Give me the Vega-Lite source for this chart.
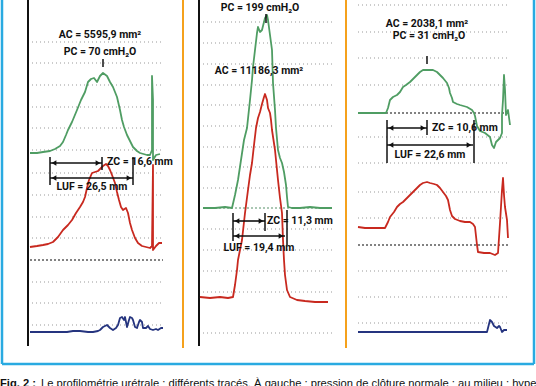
{
  "$schema": "https://vega.github.io/schema/vega-lite/v6.json",
  "width": 536,
  "height": 386,
  "padding": 0,
  "autosize": {"type": "none"},
  "background": "white",
  "config": {"view": {"stroke": null}},
  "resolve": {"scale": {"color": "independent", "shape": "independent"}},
  "encoding": {
    "x": {"field": "x", "type": "quantitative", "scale": {"domain": [0, 536], "nice": false, "zero": false}, "axis": null},
    "y": {"field": "y", "type": "quantitative", "scale": {"domain": [0, 386], "nice": false, "zero": false, "reverse": true}, "axis": null}
  },
  "datasets": {
    "grid": [
      {"x": 32, "x2": 162, "y": 42}, {"x": 32, "x2": 162, "y": 63}, {"x": 32, "x2": 162, "y": 85}, {"x": 32, "x2": 162, "y": 107}, {"x": 32, "x2": 162, "y": 128}, {"x": 32, "x2": 162, "y": 150}, {"x": 32, "x2": 162, "y": 173}, {"x": 32, "x2": 162, "y": 195}, {"x": 32, "x2": 162, "y": 217}, {"x": 32, "x2": 162, "y": 238}, {"x": 32, "x2": 162, "y": 282}, {"x": 32, "x2": 162, "y": 303}, {"x": 32, "x2": 162, "y": 325},
      {"x": 203, "x2": 332, "y": 22}, {"x": 203, "x2": 332, "y": 43}, {"x": 203, "x2": 332, "y": 64}, {"x": 203, "x2": 332, "y": 85}, {"x": 203, "x2": 332, "y": 105}, {"x": 203, "x2": 332, "y": 126}, {"x": 203, "x2": 332, "y": 147}, {"x": 203, "x2": 332, "y": 167}, {"x": 203, "x2": 332, "y": 188}, {"x": 203, "x2": 332, "y": 229}, {"x": 203, "x2": 332, "y": 250}, {"x": 203, "x2": 332, "y": 271}, {"x": 203, "x2": 332, "y": 292}, {"x": 203, "x2": 332, "y": 333},
      {"x": 358, "x2": 510, "y": 5}, {"x": 358, "x2": 510, "y": 32}, {"x": 358, "x2": 510, "y": 58}, {"x": 358, "x2": 510, "y": 85}, {"x": 358, "x2": 510, "y": 137}, {"x": 358, "x2": 510, "y": 163}, {"x": 358, "x2": 510, "y": 192}, {"x": 358, "x2": 510, "y": 218}, {"x": 358, "x2": 510, "y": 271}, {"x": 358, "x2": 510, "y": 297}, {"x": 358, "x2": 510, "y": 323}
    ],
    "base": [
      {"x": 30, "x2": 163, "y": 260, "kind": "dark"},
      {"x": 358, "x2": 510, "y": 113, "kind": "dark"},
      {"x": 358, "x2": 510, "y": 245, "kind": "dark"},
      {"x": 203, "x2": 332, "y": 208, "kind": "greenish"}
    ],
    "cyan": [
      {"x": 2, "y": 0, "x2": 2, "y2": 364},
      {"x": 534, "y": 0, "x2": 534, "y2": 364},
      {"x": 2, "y": 364, "x2": 534, "y2": 364}
    ],
    "orange": [
      {"x": 183, "y": 0, "x2": 183, "y2": 348},
      {"x": 346, "y": 0, "x2": 346, "y2": 348}
    ],
    "axes": [
      {"x": 28, "y": 0, "x2": 28, "y2": 346},
      {"x": 199, "y": 0, "x2": 199, "y2": 346}
    ],
    "traces": [
      {"k": "L-g", "c": "green", "x": 30, "y": 153}, {"k": "L-g", "c": "green", "x": 37, "y": 153}, {"k": "L-g", "c": "green", "x": 43, "y": 152}, {"k": "L-g", "c": "green", "x": 50, "y": 151}, {"k": "L-g", "c": "green", "x": 55, "y": 149}, {"k": "L-g", "c": "green", "x": 60, "y": 146}, {"k": "L-g", "c": "green", "x": 63, "y": 142}, {"k": "L-g", "c": "green", "x": 66, "y": 135}, {"k": "L-g", "c": "green", "x": 68, "y": 130}, {"k": "L-g", "c": "green", "x": 72, "y": 122}, {"k": "L-g", "c": "green", "x": 77, "y": 110}, {"k": "L-g", "c": "green", "x": 81, "y": 100}, {"k": "L-g", "c": "green", "x": 85, "y": 92}, {"k": "L-g", "c": "green", "x": 88, "y": 82}, {"k": "L-g", "c": "green", "x": 91, "y": 79}, {"k": "L-g", "c": "green", "x": 94, "y": 78}, {"k": "L-g", "c": "green", "x": 97, "y": 82}, {"k": "L-g", "c": "green", "x": 100, "y": 76}, {"k": "L-g", "c": "green", "x": 103, "y": 73}, {"k": "L-g", "c": "green", "x": 107, "y": 76}, {"k": "L-g", "c": "green", "x": 110, "y": 82}, {"k": "L-g", "c": "green", "x": 113, "y": 87}, {"k": "L-g", "c": "green", "x": 117, "y": 97}, {"k": "L-g", "c": "green", "x": 120, "y": 110}, {"k": "L-g", "c": "green", "x": 122, "y": 120}, {"k": "L-g", "c": "green", "x": 124, "y": 127}, {"k": "L-g", "c": "green", "x": 127, "y": 135}, {"k": "L-g", "c": "green", "x": 130, "y": 141}, {"k": "L-g", "c": "green", "x": 133, "y": 147}, {"k": "L-g", "c": "green", "x": 137, "y": 151}, {"k": "L-g", "c": "green", "x": 140, "y": 153}, {"k": "L-g", "c": "green", "x": 147, "y": 155}, {"k": "L-g", "c": "green", "x": 150, "y": 155}, {"k": "L-g", "c": "green", "x": 152, "y": 150}, {"k": "L-g", "c": "green", "x": 152, "y": 76}, {"k": "L-g", "c": "green", "x": 153, "y": 100}, {"k": "L-g", "c": "green", "x": 153, "y": 160}, {"k": "L-g", "c": "green", "x": 156, "y": 155}, {"k": "L-g", "c": "green", "x": 160, "y": 154},
      {"k": "L-r", "c": "red", "x": 30, "y": 247}, {"k": "L-r", "c": "red", "x": 37, "y": 246}, {"k": "L-r", "c": "red", "x": 43, "y": 245}, {"k": "L-r", "c": "red", "x": 48, "y": 244}, {"k": "L-r", "c": "red", "x": 53, "y": 242}, {"k": "L-r", "c": "red", "x": 58, "y": 237}, {"k": "L-r", "c": "red", "x": 63, "y": 230}, {"k": "L-r", "c": "red", "x": 68, "y": 225}, {"k": "L-r", "c": "red", "x": 72, "y": 220}, {"k": "L-r", "c": "red", "x": 76, "y": 213}, {"k": "L-r", "c": "red", "x": 80, "y": 207}, {"k": "L-r", "c": "red", "x": 83, "y": 202}, {"k": "L-r", "c": "red", "x": 85, "y": 197}, {"k": "L-r", "c": "red", "x": 87, "y": 188}, {"k": "L-r", "c": "red", "x": 89, "y": 180}, {"k": "L-r", "c": "red", "x": 92, "y": 173}, {"k": "L-r", "c": "red", "x": 95, "y": 172}, {"k": "L-r", "c": "red", "x": 98, "y": 171}, {"k": "L-r", "c": "red", "x": 101, "y": 168}, {"k": "L-r", "c": "red", "x": 103, "y": 166}, {"k": "L-r", "c": "red", "x": 106, "y": 164}, {"k": "L-r", "c": "red", "x": 108, "y": 166}, {"k": "L-r", "c": "red", "x": 110, "y": 170}, {"k": "L-r", "c": "red", "x": 112, "y": 175}, {"k": "L-r", "c": "red", "x": 115, "y": 183}, {"k": "L-r", "c": "red", "x": 117, "y": 192}, {"k": "L-r", "c": "red", "x": 119, "y": 200}, {"k": "L-r", "c": "red", "x": 121, "y": 207}, {"k": "L-r", "c": "red", "x": 123, "y": 210}, {"k": "L-r", "c": "red", "x": 126, "y": 208}, {"k": "L-r", "c": "red", "x": 128, "y": 213}, {"k": "L-r", "c": "red", "x": 130, "y": 223}, {"k": "L-r", "c": "red", "x": 132, "y": 230}, {"k": "L-r", "c": "red", "x": 135, "y": 238}, {"k": "L-r", "c": "red", "x": 138, "y": 243}, {"k": "L-r", "c": "red", "x": 142, "y": 246}, {"k": "L-r", "c": "red", "x": 146, "y": 247}, {"k": "L-r", "c": "red", "x": 150, "y": 248}, {"k": "L-r", "c": "red", "x": 152, "y": 246}, {"k": "L-r", "c": "red", "x": 153, "y": 165}, {"k": "L-r", "c": "red", "x": 153, "y": 250}, {"k": "L-r", "c": "red", "x": 156, "y": 246}, {"k": "L-r", "c": "red", "x": 159, "y": 243}, {"k": "L-r", "c": "red", "x": 162, "y": 243},
      {"k": "L-b", "c": "blue", "x": 30, "y": 332}, {"k": "L-b", "c": "blue", "x": 45, "y": 332}, {"k": "L-b", "c": "blue", "x": 60, "y": 332}, {"k": "L-b", "c": "blue", "x": 67, "y": 332}, {"k": "L-b", "c": "blue", "x": 73, "y": 331}, {"k": "L-b", "c": "blue", "x": 80, "y": 331}, {"k": "L-b", "c": "blue", "x": 88, "y": 332}, {"k": "L-b", "c": "blue", "x": 93, "y": 332}, {"k": "L-b", "c": "blue", "x": 98, "y": 331}, {"k": "L-b", "c": "blue", "x": 100, "y": 330}, {"k": "L-b", "c": "blue", "x": 103, "y": 327}, {"k": "L-b", "c": "blue", "x": 107, "y": 325}, {"k": "L-b", "c": "blue", "x": 110, "y": 328}, {"k": "L-b", "c": "blue", "x": 113, "y": 330}, {"k": "L-b", "c": "blue", "x": 116, "y": 328}, {"k": "L-b", "c": "blue", "x": 118, "y": 325}, {"k": "L-b", "c": "blue", "x": 120, "y": 318}, {"k": "L-b", "c": "blue", "x": 122, "y": 317}, {"k": "L-b", "c": "blue", "x": 124, "y": 320}, {"k": "L-b", "c": "blue", "x": 125, "y": 317}, {"k": "L-b", "c": "blue", "x": 127, "y": 327}, {"k": "L-b", "c": "blue", "x": 129, "y": 320}, {"k": "L-b", "c": "blue", "x": 130, "y": 317}, {"k": "L-b", "c": "blue", "x": 132, "y": 318}, {"k": "L-b", "c": "blue", "x": 133, "y": 320}, {"k": "L-b", "c": "blue", "x": 135, "y": 327}, {"k": "L-b", "c": "blue", "x": 137, "y": 328}, {"k": "L-b", "c": "blue", "x": 139, "y": 322}, {"k": "L-b", "c": "blue", "x": 140, "y": 320}, {"k": "L-b", "c": "blue", "x": 142, "y": 322}, {"k": "L-b", "c": "blue", "x": 143, "y": 328}, {"k": "L-b", "c": "blue", "x": 146, "y": 328}, {"k": "L-b", "c": "blue", "x": 148, "y": 326}, {"k": "L-b", "c": "blue", "x": 150, "y": 329}, {"k": "L-b", "c": "blue", "x": 153, "y": 330}, {"k": "L-b", "c": "blue", "x": 156, "y": 329}, {"k": "L-b", "c": "blue", "x": 158, "y": 330}, {"k": "L-b", "c": "blue", "x": 161, "y": 328}, {"k": "L-b", "c": "blue", "x": 163, "y": 328},
      {"k": "M-g", "c": "green", "x": 203, "y": 208}, {"k": "M-g", "c": "green", "x": 215, "y": 208}, {"k": "M-g", "c": "green", "x": 225, "y": 207}, {"k": "M-g", "c": "green", "x": 232, "y": 208}, {"k": "M-g", "c": "green", "x": 235, "y": 195}, {"k": "M-g", "c": "green", "x": 238, "y": 180}, {"k": "M-g", "c": "green", "x": 241, "y": 160}, {"k": "M-g", "c": "green", "x": 244, "y": 140}, {"k": "M-g", "c": "green", "x": 247, "y": 128}, {"k": "M-g", "c": "green", "x": 250, "y": 100}, {"k": "M-g", "c": "green", "x": 252, "y": 80}, {"k": "M-g", "c": "green", "x": 253, "y": 67}, {"k": "M-g", "c": "green", "x": 255, "y": 50}, {"k": "M-g", "c": "green", "x": 257, "y": 33}, {"k": "M-g", "c": "green", "x": 258, "y": 27}, {"k": "M-g", "c": "green", "x": 260, "y": 32}, {"k": "M-g", "c": "green", "x": 262, "y": 30}, {"k": "M-g", "c": "green", "x": 264, "y": 22}, {"k": "M-g", "c": "green", "x": 265, "y": 18}, {"k": "M-g", "c": "green", "x": 267, "y": 15}, {"k": "M-g", "c": "green", "x": 268, "y": 20}, {"k": "M-g", "c": "green", "x": 270, "y": 35}, {"k": "M-g", "c": "green", "x": 272, "y": 50}, {"k": "M-g", "c": "green", "x": 273, "y": 83}, {"k": "M-g", "c": "green", "x": 275, "y": 110}, {"k": "M-g", "c": "green", "x": 276, "y": 128}, {"k": "M-g", "c": "green", "x": 278, "y": 150}, {"k": "M-g", "c": "green", "x": 280, "y": 158}, {"k": "M-g", "c": "green", "x": 282, "y": 163}, {"k": "M-g", "c": "green", "x": 284, "y": 172}, {"k": "M-g", "c": "green", "x": 286, "y": 185}, {"k": "M-g", "c": "green", "x": 287, "y": 197}, {"k": "M-g", "c": "green", "x": 288, "y": 207}, {"k": "M-g", "c": "green", "x": 292, "y": 208}, {"k": "M-g", "c": "green", "x": 300, "y": 208}, {"k": "M-g", "c": "green", "x": 310, "y": 207}, {"k": "M-g", "c": "green", "x": 320, "y": 208}, {"k": "M-g", "c": "green", "x": 332, "y": 208},
      {"k": "M-r", "c": "red", "x": 200, "y": 297}, {"k": "M-r", "c": "red", "x": 210, "y": 298}, {"k": "M-r", "c": "red", "x": 220, "y": 297}, {"k": "M-r", "c": "red", "x": 228, "y": 298}, {"k": "M-r", "c": "red", "x": 233, "y": 297}, {"k": "M-r", "c": "red", "x": 235, "y": 285}, {"k": "M-r", "c": "red", "x": 237, "y": 270}, {"k": "M-r", "c": "red", "x": 238, "y": 260}, {"k": "M-r", "c": "red", "x": 240, "y": 250}, {"k": "M-r", "c": "red", "x": 242, "y": 240}, {"k": "M-r", "c": "red", "x": 245, "y": 213}, {"k": "M-r", "c": "red", "x": 248, "y": 190}, {"k": "M-r", "c": "red", "x": 250, "y": 175}, {"k": "M-r", "c": "red", "x": 252, "y": 163}, {"k": "M-r", "c": "red", "x": 254, "y": 145}, {"k": "M-r", "c": "red", "x": 256, "y": 128}, {"k": "M-r", "c": "red", "x": 258, "y": 118}, {"k": "M-r", "c": "red", "x": 260, "y": 112}, {"k": "M-r", "c": "red", "x": 262, "y": 104}, {"k": "M-r", "c": "red", "x": 264, "y": 97}, {"k": "M-r", "c": "red", "x": 265, "y": 94}, {"k": "M-r", "c": "red", "x": 267, "y": 100}, {"k": "M-r", "c": "red", "x": 268, "y": 108}, {"k": "M-r", "c": "red", "x": 270, "y": 113}, {"k": "M-r", "c": "red", "x": 271, "y": 120}, {"k": "M-r", "c": "red", "x": 272, "y": 130}, {"k": "M-r", "c": "red", "x": 275, "y": 150}, {"k": "M-r", "c": "red", "x": 278, "y": 180}, {"k": "M-r", "c": "red", "x": 280, "y": 198}, {"k": "M-r", "c": "red", "x": 282, "y": 213}, {"k": "M-r", "c": "red", "x": 283, "y": 240}, {"k": "M-r", "c": "red", "x": 284, "y": 260}, {"k": "M-r", "c": "red", "x": 285, "y": 275}, {"k": "M-r", "c": "red", "x": 287, "y": 290}, {"k": "M-r", "c": "red", "x": 290, "y": 297}, {"k": "M-r", "c": "red", "x": 297, "y": 300}, {"k": "M-r", "c": "red", "x": 305, "y": 301}, {"k": "M-r", "c": "red", "x": 315, "y": 302}, {"k": "M-r", "c": "red", "x": 328, "y": 302},
      {"k": "R-g", "c": "green", "x": 358, "y": 113}, {"k": "R-g", "c": "green", "x": 372, "y": 113}, {"k": "R-g", "c": "green", "x": 386, "y": 113}, {"k": "R-g", "c": "green", "x": 388, "y": 108}, {"k": "R-g", "c": "green", "x": 390, "y": 100}, {"k": "R-g", "c": "green", "x": 393, "y": 97}, {"k": "R-g", "c": "green", "x": 397, "y": 95}, {"k": "R-g", "c": "green", "x": 400, "y": 92}, {"k": "R-g", "c": "green", "x": 403, "y": 87}, {"k": "R-g", "c": "green", "x": 406, "y": 85}, {"k": "R-g", "c": "green", "x": 410, "y": 82}, {"k": "R-g", "c": "green", "x": 413, "y": 79}, {"k": "R-g", "c": "green", "x": 417, "y": 75}, {"k": "R-g", "c": "green", "x": 420, "y": 72}, {"k": "R-g", "c": "green", "x": 423, "y": 70}, {"k": "R-g", "c": "green", "x": 430, "y": 70}, {"k": "R-g", "c": "green", "x": 433, "y": 70}, {"k": "R-g", "c": "green", "x": 437, "y": 72}, {"k": "R-g", "c": "green", "x": 440, "y": 75}, {"k": "R-g", "c": "green", "x": 443, "y": 78}, {"k": "R-g", "c": "green", "x": 447, "y": 83}, {"k": "R-g", "c": "green", "x": 449, "y": 88}, {"k": "R-g", "c": "green", "x": 450, "y": 93}, {"k": "R-g", "c": "green", "x": 452, "y": 98}, {"k": "R-g", "c": "green", "x": 453, "y": 102}, {"k": "R-g", "c": "green", "x": 457, "y": 104}, {"k": "R-g", "c": "green", "x": 460, "y": 105}, {"k": "R-g", "c": "green", "x": 467, "y": 107}, {"k": "R-g", "c": "green", "x": 472, "y": 110}, {"k": "R-g", "c": "green", "x": 474, "y": 113}, {"k": "R-g", "c": "green", "x": 475, "y": 116}, {"k": "R-g", "c": "green", "x": 477, "y": 126}, {"k": "R-g", "c": "green", "x": 480, "y": 131}, {"k": "R-g", "c": "green", "x": 485, "y": 133}, {"k": "R-g", "c": "green", "x": 490, "y": 137}, {"k": "R-g", "c": "green", "x": 492, "y": 145}, {"k": "R-g", "c": "green", "x": 494, "y": 148}, {"k": "R-g", "c": "green", "x": 496, "y": 142}, {"k": "R-g", "c": "green", "x": 500, "y": 138}, {"k": "R-g", "c": "green", "x": 502, "y": 133}, {"k": "R-g", "c": "green", "x": 502, "y": 115}, {"k": "R-g", "c": "green", "x": 503, "y": 100}, {"k": "R-g", "c": "green", "x": 504, "y": 75}, {"k": "R-g", "c": "green", "x": 505, "y": 90}, {"k": "R-g", "c": "green", "x": 506, "y": 115}, {"k": "R-g", "c": "green", "x": 508, "y": 110}, {"k": "R-g", "c": "green", "x": 510, "y": 125},
      {"k": "R-r", "c": "red", "x": 358, "y": 227}, {"k": "R-r", "c": "red", "x": 365, "y": 228}, {"k": "R-r", "c": "red", "x": 372, "y": 228}, {"k": "R-r", "c": "red", "x": 380, "y": 228}, {"k": "R-r", "c": "red", "x": 385, "y": 228}, {"k": "R-r", "c": "red", "x": 388, "y": 222}, {"k": "R-r", "c": "red", "x": 390, "y": 217}, {"k": "R-r", "c": "red", "x": 394, "y": 212}, {"k": "R-r", "c": "red", "x": 397, "y": 207}, {"k": "R-r", "c": "red", "x": 400, "y": 204}, {"k": "R-r", "c": "red", "x": 403, "y": 202}, {"k": "R-r", "c": "red", "x": 407, "y": 198}, {"k": "R-r", "c": "red", "x": 410, "y": 195}, {"k": "R-r", "c": "red", "x": 414, "y": 191}, {"k": "R-r", "c": "red", "x": 417, "y": 188}, {"k": "R-r", "c": "red", "x": 420, "y": 185}, {"k": "R-r", "c": "red", "x": 423, "y": 183}, {"k": "R-r", "c": "red", "x": 427, "y": 182}, {"k": "R-r", "c": "red", "x": 430, "y": 183}, {"k": "R-r", "c": "red", "x": 434, "y": 184}, {"k": "R-r", "c": "red", "x": 437, "y": 185}, {"k": "R-r", "c": "red", "x": 440, "y": 188}, {"k": "R-r", "c": "red", "x": 443, "y": 192}, {"k": "R-r", "c": "red", "x": 446, "y": 196}, {"k": "R-r", "c": "red", "x": 448, "y": 200}, {"k": "R-r", "c": "red", "x": 450, "y": 210}, {"k": "R-r", "c": "red", "x": 452, "y": 216}, {"k": "R-r", "c": "red", "x": 455, "y": 219}, {"k": "R-r", "c": "red", "x": 460, "y": 221}, {"k": "R-r", "c": "red", "x": 465, "y": 222}, {"k": "R-r", "c": "red", "x": 470, "y": 222}, {"k": "R-r", "c": "red", "x": 473, "y": 224}, {"k": "R-r", "c": "red", "x": 475, "y": 227}, {"k": "R-r", "c": "red", "x": 476, "y": 236}, {"k": "R-r", "c": "red", "x": 477, "y": 245}, {"k": "R-r", "c": "red", "x": 478, "y": 252}, {"k": "R-r", "c": "red", "x": 484, "y": 253}, {"k": "R-r", "c": "red", "x": 490, "y": 253}, {"k": "R-r", "c": "red", "x": 495, "y": 255}, {"k": "R-r", "c": "red", "x": 498, "y": 253}, {"k": "R-r", "c": "red", "x": 500, "y": 223}, {"k": "R-r", "c": "red", "x": 502, "y": 190}, {"k": "R-r", "c": "red", "x": 503, "y": 178}, {"k": "R-r", "c": "red", "x": 504, "y": 195}, {"k": "R-r", "c": "red", "x": 505, "y": 207}, {"k": "R-r", "c": "red", "x": 507, "y": 220}, {"k": "R-r", "c": "red", "x": 508, "y": 238},
      {"k": "R-b", "c": "blue", "x": 358, "y": 332}, {"k": "R-b", "c": "blue", "x": 380, "y": 332}, {"k": "R-b", "c": "blue", "x": 400, "y": 332}, {"k": "R-b", "c": "blue", "x": 420, "y": 332}, {"k": "R-b", "c": "blue", "x": 440, "y": 332}, {"k": "R-b", "c": "blue", "x": 460, "y": 332}, {"k": "R-b", "c": "blue", "x": 487, "y": 332}, {"k": "R-b", "c": "blue", "x": 489, "y": 324}, {"k": "R-b", "c": "blue", "x": 490, "y": 320}, {"k": "R-b", "c": "blue", "x": 492, "y": 322}, {"k": "R-b", "c": "blue", "x": 494, "y": 326}, {"k": "R-b", "c": "blue", "x": 497, "y": 328}, {"k": "R-b", "c": "blue", "x": 499, "y": 326}, {"k": "R-b", "c": "blue", "x": 500, "y": 327}, {"k": "R-b", "c": "blue", "x": 502, "y": 332}, {"k": "R-b", "c": "blue", "x": 504, "y": 330}, {"k": "R-b", "c": "blue", "x": 507, "y": 330}
    ],
    "shafts": [
      {"x": 50, "x2": 102, "y": 163}, {"x": 50, "x2": 133, "y": 178},
      {"x": 233, "x2": 265, "y": 221}, {"x": 233, "x2": 285, "y": 236},
      {"x": 387, "x2": 427, "y": 128}, {"x": 387, "x2": 473, "y": 145}
    ],
    "ticks": [
      {"x": 50, "y": 157, "y2": 185}, {"x": 102, "y": 157, "y2": 170}, {"x": 133, "y": 157, "y2": 185},
      {"x": 233, "y": 213, "y2": 241}, {"x": 265, "y": 213, "y2": 231}, {"x": 287, "y": 210, "y2": 245},
      {"x": 387, "y": 120, "y2": 163}, {"x": 427, "y": 120, "y2": 135}, {"x": 474, "y": 120, "y2": 163},
      {"x": 103, "y": 59, "y2": 67}, {"x": 266, "y": 14, "y2": 23}, {"x": 427, "y": 56, "y2": 64}
    ],
    "heads": [
      {"x": 54, "y": 163, "dir": "left"}, {"x": 98, "y": 163, "dir": "right"},
      {"x": 54, "y": 178, "dir": "left"}, {"x": 129, "y": 178, "dir": "right"},
      {"x": 237, "y": 221, "dir": "left"}, {"x": 261, "y": 221, "dir": "right"},
      {"x": 237, "y": 236, "dir": "left"}, {"x": 281, "y": 236, "dir": "right"},
      {"x": 391, "y": 128, "dir": "left"}, {"x": 423, "y": 128, "dir": "right"},
      {"x": 391, "y": 145, "dir": "left"}, {"x": 469, "y": 145, "dir": "right"}
    ],
    "labels": [
      {"x": 100, "y": 35, "t": "AC = 5595,9 mm²"},
      {"x": 100, "y": 52, "t": "PC = 70 cmH₂O"},
      {"x": 92, "y": 187, "t": "LUF = 26,5 mm"},
      {"x": 260, "y": 8, "t": "PC = 199 cmH₂O"},
      {"x": 259, "y": 71, "t": "AC = 11186,3 mm²"},
      {"x": 259, "y": 248, "t": "LUF = 19,4 mm"},
      {"x": 427, "y": 24, "t": "AC = 2038,1 mm²"},
      {"x": 429, "y": 36, "t": "PC = 31 cmH₂O"},
      {"x": 430, "y": 155, "t": "LUF = 22,6 mm"}
    ],
    "zc": [
      {"x": 107, "y": 162, "t": "ZC = 16,6 mm"},
      {"x": 267, "y": 221, "t": "ZC = 11,3 mm"},
      {"x": 432, "y": 128, "t": "ZC = 10,6 mm"}
    ],
    "capbold": [{"x": 0, "y": 378, "t": "Fig. 2 :"}],
    "caption": [{"x": 41, "y": 378, "t": "Le profilométrie urétrale : différents tracés. À gauche : pression de clôture normale ; au milieu : hypertonie urétrale"}]
  },
  "layer": [
    {"data": {"name": "grid"}, "mark": {"type": "rule", "color": "#9a9a9a", "strokeWidth": 1.1, "strokeDash": [1, 3]}, "encoding": {"x2": {"field": "x2"}}},
    {"data": {"name": "base"}, "mark": {"type": "rule", "strokeWidth": 1.6, "strokeDash": [2, 2]}, "encoding": {"x2": {"field": "x2"}, "color": {"field": "kind", "type": "nominal", "scale": {"domain": ["dark", "greenish"], "range": ["#5a5a5a", "#8fb59a"]}, "legend": null}}},
    {"data": {"name": "cyan"}, "mark": {"type": "rule", "color": "#29aae1", "strokeWidth": 2.5}, "encoding": {"x2": {"field": "x2"}, "y2": {"field": "y2"}}},
    {"data": {"name": "orange"}, "mark": {"type": "rule", "color": "#f5a11c", "strokeWidth": 2}, "encoding": {"x2": {"field": "x2"}, "y2": {"field": "y2"}}},
    {"data": {"name": "axes"}, "mark": {"type": "rule", "color": "#111111", "strokeWidth": 2}, "encoding": {"x2": {"field": "x2"}, "y2": {"field": "y2"}}},
    {"data": {"name": "traces"}, "mark": {"type": "line", "strokeWidth": 1.8, "strokeJoin": "round"}, "encoding": {"color": {"field": "c", "type": "nominal", "scale": {"domain": ["green", "red", "blue"], "range": ["#4f9d63", "#c8291f", "#25347f"]}, "legend": null}, "detail": {"field": "k"}, "order": {"value": null}}},
    {"data": {"name": "shafts"}, "mark": {"type": "rule", "color": "#111111", "strokeWidth": 1.6}, "encoding": {"x2": {"field": "x2"}}},
    {"data": {"name": "ticks"}, "mark": {"type": "rule", "color": "#111111", "strokeWidth": 1.5}, "encoding": {"y2": {"field": "y2"}}},
    {"data": {"name": "heads"}, "mark": {"type": "point", "filled": true, "color": "#111111", "opacity": 1, "size": 30}, "encoding": {"shape": {"field": "dir", "type": "nominal", "scale": {"domain": ["left", "right"], "range": ["triangle-left", "triangle-right"]}, "legend": null}}},
    {"data": {"name": "labels"}, "mark": {"type": "text", "font": "Roboto", "fontWeight": "bold", "fontSize": 10.5, "align": "center", "baseline": "middle", "color": "#111111"}, "encoding": {"text": {"field": "t"}}},
    {"data": {"name": "zc"}, "mark": {"type": "text", "font": "Roboto", "fontWeight": "bold", "fontSize": 10.5, "align": "left", "baseline": "middle", "color": "#111111"}, "encoding": {"text": {"field": "t"}}},
    {"data": {"name": "capbold"}, "mark": {"type": "text", "font": "Liberation Sans", "fontWeight": "bold", "fontSize": 11.2, "align": "left", "baseline": "top", "color": "#111111", "clip": true}, "encoding": {"text": {"field": "t"}}},
    {"data": {"name": "caption"}, "mark": {"type": "text", "font": "Liberation Sans", "fontSize": 11.2, "align": "left", "baseline": "top", "color": "#111111", "clip": true}, "encoding": {"text": {"field": "t"}}}
  ]
}
